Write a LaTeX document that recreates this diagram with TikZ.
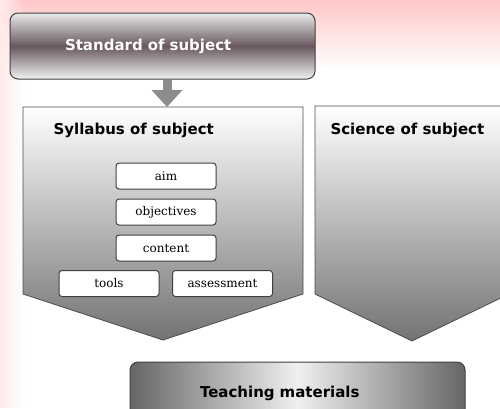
\documentclass[tikz,border=0pt]{standalone}
\usepackage{fontspec}
\newfontfamily\headfont{DejaVu Sans}
\newfontfamily\itemfont{DejaVu Serif}
\usetikzlibrary{arrows.meta,fadings}

\definecolor{mauve}{RGB}{104,88,94}
\tikzset{
  item/.style={draw=black!75, line width=1pt, fill=white, rounded corners=3pt,
    minimum width=100pt, minimum height=26pt, inner sep=0pt,
    font=\itemfont\fontsize{12}{14}\selectfont},
  head/.style={font=\headfont\bfseries\fontsize{15}{17}\selectfont, anchor=west},
  panel/.style={draw=black!70, line width=0.8pt, top color=white, bottom color=black!55},
}

\begin{document}
\begin{tikzpicture}[x=1pt,y=-1pt]
\useasboundingbox (0,0) rectangle (500,408);
% pink glow behind
\fill[red!22, path fading=south] (0,0) rectangle (500,70);
\fill[red!8, path fading=east] (0,0) rectangle (25,408);

% top box
\node[draw=black!75, line width=1pt, rounded corners=8pt,
  top color=black!8, bottom color=black!5, middle color=mauve,
  minimum width=305pt, minimum height=66pt, inner xsep=55pt, inner ysep=0pt,
  text width=195pt, align=left, text=white,
  font=\headfont\bfseries\fontsize{15}{17}\selectfont] (std) at (162.5,46) {Standard of subject};

% the two panels
\draw[panel] (23,107) -- (303,107) -- (303,294) -- (163,340) -- (23,294) -- cycle;
\draw[panel] (315,106) -- (509,106) -- (509,294) -- (412,341) -- (315,294) -- cycle;
\coordinate (syltop) at (167,107);
\node[head] (syl) at (50,130) {Syllabus of subject};
\node[head] (sci) at (327,130) {Science of subject};

\draw[line width=9pt, black!45, -{Triangle[width=30pt,length=17pt]}]
  ([xshift=4.5pt]std.south) -- (syltop);

% parts of the syllabus
\foreach \name/\txt/\y in {aim/aim/176, obj/objectives/212, cont/content/248}
  \node[item] (\name) at (166,\y) {\txt};
\node[item] (tools) at (109,283.5) {tools};
\node[item] (assess) at (222.5,283.5) {assessment};

% bottom box
\node[draw=black!75, line width=1pt, rounded corners=8pt,
  left color=black!60, right color=black!60, middle color=black!6,
  minimum width=335pt, minimum height=62pt, inner xsep=70pt, inner ysep=0pt,
  text width=195pt, align=left,
  font=\headfont\bfseries\fontsize{15}{17}\selectfont] (teach) at (297.5,393) {Teaching materials};
\end{tikzpicture}
\end{document}
